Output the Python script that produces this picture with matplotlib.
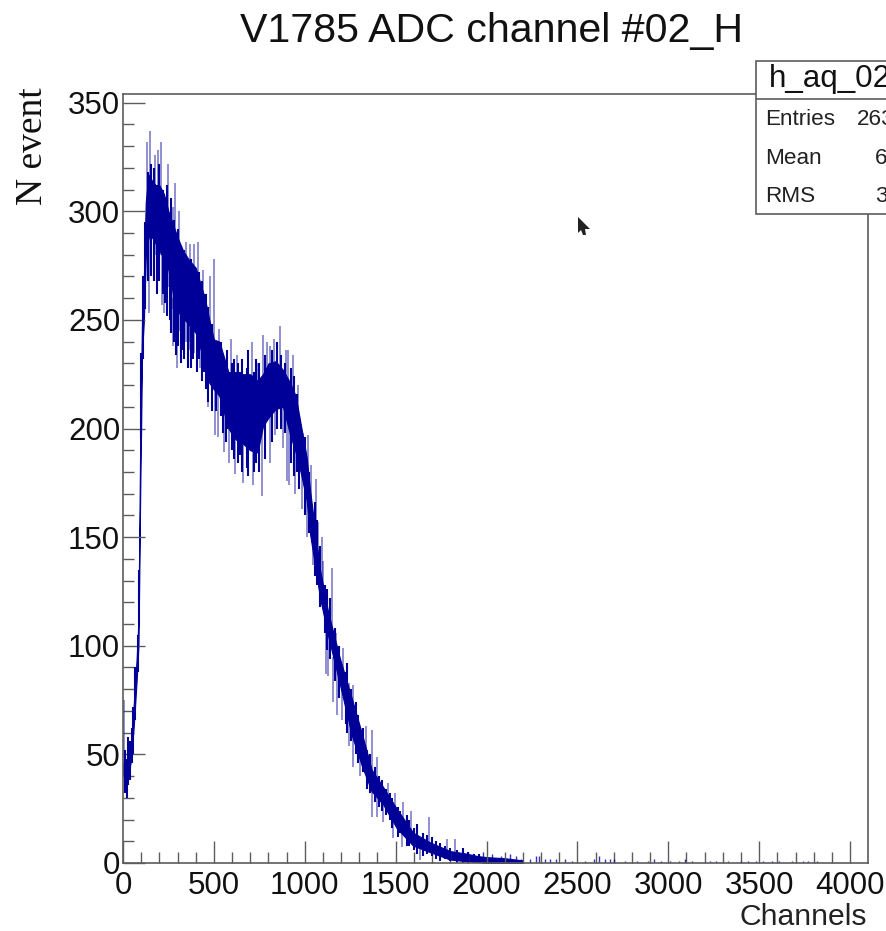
#!/usr/bin/env python3
"""V1785 ADC channel spectrum, drawn in the ROOT canvas style."""
import matplotlib

matplotlib.use("Agg")
import matplotlib.pyplot as plt
from matplotlib.patches import Polygon, Rectangle
from matplotlib.ticker import MultipleLocator

# dense body of the histogram
core_channels = [0, 5, 15, 30, 45, 60, 75, 85, 95, 105, 115, 125, 140, 160, 180, 200, 225, 250,
                 275, 300, 330, 360, 400, 450, 475, 500, 530, 580, 620, 660, 700, 740, 770, 800,
                 840, 880, 920, 950, 980, 1010, 1030, 1084, 1130, 1194, 1258, 1313, 1368, 1431,
                 1506, 1596, 1689, 1799, 1891, 1950, 2000, 2100, 2200]
core_low = [40, 40, 36, 40, 48, 64, 84, 100, 172, 235, 250, 278, 288, 288, 285, 282, 278, 273,
            262, 254, 251, 248, 244, 230, 221, 218, 215, 200, 195, 193, 190, 189, 201, 205,
            209, 210, 197, 189, 179, 167, 151, 122, 104, 82, 59, 45, 33, 27,
            16, 8, 5, 1.6, 0.8, 0.5, 0, 0, 0]
core_high = [46, 46, 42, 48, 54, 74, 94, 112, 198, 252, 270, 304, 317, 314, 312, 312, 308, 300,
             294, 288, 282, 278, 274, 260, 250, 241, 240, 226, 226, 225, 225, 222, 225, 230,
             231, 227, 221, 215, 201, 187, 171, 135, 115, 94, 76, 60, 43, 35,
             25, 14, 9.5, 5.5, 4.3, 3.2, 2.7, 2.2, 1.2]

# single bins that stick out above the body
up_channels = [7, 130, 150, 176, 191, 207, 246, 273, 286, 310, 347, 369, 393, 414, 438, 479, 501,
               528, 594, 625, 671, 708, 739, 769, 791, 809, 831, 864, 897, 910, 934, 961, 992,
               1020, 1034, 1062, 1075, 1093, 1102, 1148, 1170, 1212, 1243, 1267, 1337, 1372,
               1399, 1459, 1497, 1539, 1583, 1683, 1781, 1827]
up_tops = [75, 332, 337, 326, 328, 332, 322, 302, 313, 300, 286, 285, 285, 286, 273, 270, 278,
           246, 241, 234, 224, 240, 230, 243, 240, 238, 241, 247, 236, 236, 234, 220, 198,
           197, 183, 177, 157, 150, 139, 136, 106, 99, 83, 82, 63, 61,
           49, 37, 32, 28, 24, 21, 11, 11]
up_bases = [45, 280, 285, 280, 280, 280, 265, 255, 250, 245, 240, 240, 235, 235, 230, 225, 220,
            225, 210, 210, 205, 205, 205, 212, 215, 218, 220, 220, 215, 210, 205, 200, 190,
            175, 165, 150, 135, 125, 125, 108, 95, 80, 72, 65, 48, 38,
            33, 25, 20, 15, 10, 7, 3, 3]

# single bins that dip below the body
down_channels = [145, 213, 227, 277, 295, 369, 424, 469, 506, 524, 556, 585, 616, 662, 714, 763,
                 809, 836, 882, 900, 913, 946, 983, 1010, 1047, 1117, 1130, 1157, 1179, 1203,
                 1245, 1267, 1304, 1368, 1398, 1431, 1487, 1533, 1634]
down_bottoms = [253, 257, 253, 238, 228, 236, 228, 210, 197, 196, 189, 184, 179, 175, 174, 169,
                184, 197, 191, 176, 174, 170, 163, 150, 137, 87, 86, 74, 68, 66,
                54, 44, 40, 21, 21, 19, 11.5, 7.4, 1.4]
down_bases = [285, 285, 275, 260, 255, 250, 245, 235, 225, 225, 210, 210, 210, 205, 205, 210,
              215, 220, 220, 215, 210, 200, 190, 175, 160, 110, 110, 95, 90, 85,
              70, 60, 52, 38, 36, 30, 24, 18, 10]

# ordinary bins that roughen the edge of the body
edge_channels = [10, 20, 28, 38, 50, 55, 68, 80, 90, 100,
                 112, 120, 135, 155, 168, 185, 198, 218, 232, 240, 258, 266, 280, 292, 303, 318,
                 326, 338, 355, 376, 385, 405, 420, 432, 445, 458, 470, 490, 512, 540, 552, 565,
                 572, 600, 610, 634, 645, 652, 680, 690, 722, 730, 750, 780, 820, 850, 872, 890,
                 925, 940, 955, 970, 1000, 1025, 1055, 1068, 1085, 1110, 1125, 1140, 1165, 1188,
                 1225, 1235, 1255, 1280, 1295, 1320, 1345, 1360, 1385, 1410, 1425, 1445, 1470,
                 1480, 1515, 1525, 1560, 1575, 1600, 1620, 1650, 1670, 1700, 1720, 1745, 1770,
                 1800, 1840, 1870, 1900, 1930, 1960]
edge_low = [32, 30, 36, 38, 46, 50, 66, 88, 110, 195,
            232, 255, 268, 270, 268, 262, 268, 262, 258, 252, 250, 244, 240, 234, 238, 230,
            236, 232, 228, 228, 232, 226, 232, 222, 226, 218, 212, 208, 208, 206, 198, 194,
            200, 190, 186, 184, 188, 180, 182, 178, 180, 184, 180, 186, 194, 200, 200, 198,
            184, 178, 180, 172, 160, 152, 132, 128, 118, 106, 98, 94, 84, 76,
            64, 60, 56, 50, 46, 42, 34, 32, 28, 26, 24, 22, 20,
            16, 12, 14, 8, 8, 6, 4, 3, 4, 3, 2, 1, 2,
            1, 0, 0, 0, 0, 0]
edge_high = [52, 48, 58, 56, 62, 72, 90, 105, 135, 235,
             270, 295, 318, 322, 320, 312, 322, 310, 300, 312, 298, 306, 296, 290, 292, 284,
             278, 282, 276, 278, 272, 270, 272, 268, 262, 262, 256, 248, 238, 240, 234, 224,
             236, 230, 232, 230, 226, 232, 228, 236, 226, 232, 230, 234, 236, 240, 234, 230,
             228, 224, 216, 206, 196, 180, 166, 158, 146, 128, 126, 122, 108, 100,
             88, 92, 80, 74, 68, 62, 52, 50, 44, 40, 38, 34, 32,
             30, 26, 24, 22, 20, 16, 18, 14, 13, 12, 10, 9, 8,
             7, 6, 7, 5, 4, 4]

# scattered low bins in the tail
tail_channels = [1980, 2030, 2080, 2130, 2160, 2190, 2240, 2270, 2290, 2320, 2350, 2380, 2430, 2470,
                 2540, 2590, 2620, 2650, 2680, 2700, 2760, 2830, 2890, 2920, 2960, 3010, 3060,
                 3090, 3130, 3230, 3260, 3330, 3400, 3440, 3480, 3520, 3570, 3610, 3680, 3740,
                 3770, 3816]
tail_counts = [5, 4, 3, 4, 3, 2, 2, 3, 3, 2, 2, 2, 2, 1, 1, 2, 3, 2, 2, 2, 1, 1, 1, 2, 1, 1, 1,
               2, 1, 1, 1, 1, 1, 1, 1, 1, 1, 1, 1, 1, 1, 1]

x_ticks = [0, 500, 1000, 1500, 2000, 2500, 3000, 3500, 4000]
y_ticks = [0, 50, 100, 150, 200, 250, 300, 350]

stat_labels = ["Entries", "Mean", "RMS"]
stat_values = ["263", "6", "3"]

WIDTH, HEIGHT = 886, 931
BLUE = "#000099"
GREY = "#5c5c5c"
SANS = "Liberation Sans"
SERIF = "Liberation Serif"


def fx(px):
    return px / WIDTH


def fy(py):
    return 1 - py / HEIGHT


def main():
    fig = plt.figure(figsize=(WIDTH / 100, HEIGHT / 100), dpi=100)
    ax = fig.add_axes([fx(123), fy(863), fx(867.5 - 123), (863 - 94) / HEIGHT])

    ax.fill_between(core_channels, core_low, core_high, color=BLUE, lw=0.8)
    ax.vlines(edge_channels, edge_low, edge_high, color=BLUE, lw=1.5)
    ax.vlines(up_channels, up_bases, up_tops, color=BLUE, lw=1.1, alpha=0.55)
    ax.vlines(down_channels, down_bottoms, down_bases, color=BLUE, lw=1.1, alpha=0.55)
    ax.vlines(tail_channels, 0, tail_counts, color=BLUE, lw=1.0, alpha=0.8)

    ax.set_xlim(0, 4096)
    ax.set_ylim(0, 354)
    ax.set_xticks(x_ticks)
    ax.set_yticks(y_ticks)
    ax.xaxis.set_minor_locator(MultipleLocator(100))
    ax.yaxis.set_minor_locator(MultipleLocator(10))
    ax.tick_params(which="major", direction="in", length=16, width=1.0, color=GREY,
                   labelsize=22.5, labelcolor="#111111")
    ax.tick_params(which="minor", direction="in", length=8, width=1.0, color=GREY)
    ax.tick_params(axis="x", which="major", pad=6)
    ax.tick_params(axis="y", which="major", pad=2)
    for label in ax.get_xticklabels() + ax.get_yticklabels():
        label.set_fontfamily(SANS)
    for spine in ax.spines.values():
        spine.set_color(GREY)
        spine.set_linewidth(1.2)

    fig.text(fx(491), fy(42), "V1785 ADC channel #02_H", family=SANS, fontsize=29.6,
             ha="center", va="baseline", color="#111111")
    fig.text(fx(867), fy(925), "Channels", family=SANS, fontsize=21.7, ha="right",
             va="baseline", color="#222222")
    fig.text(fx(50), fy(146), "N event", family=SERIF, fontsize=27, rotation=90,
             ha="right", va="center", color="#111111")

    # stats box runs off the right edge of the canvas
    fig.add_artist(Rectangle((fx(756), fy(214)), fx(140), (214 - 61) / HEIGHT, facecolor="white",
                             edgecolor=GREY, lw=1.2, zorder=5))
    fig.add_artist(Rectangle((fx(756), fy(99)), fx(140), 0, edgecolor=GREY, lw=1.2, zorder=6))
    fig.text(fx(769), fy(87), "h_aq_02", family=SANS, fontsize=22.6, va="baseline", zorder=7,
             color="#111111")
    for row, py in enumerate([125, 164, 202]):
        fig.text(fx(765), fy(py), stat_labels[row], family=SANS, fontsize=16.2, va="baseline",
                 zorder=7, color="#222222")
    for row, (px, py) in enumerate([(857, 125), (875, 164), (875, 202)]):
        fig.text(fx(px), fy(py), stat_values[row], family=SANS, fontsize=16.2, va="baseline",
                 zorder=7, color="#222222")

    # mouse pointer caught in the screenshot
    pointer = [(578, 217), (590, 229), (585, 229), (586, 235), (583, 235), (581, 230), (578, 233)]
    fig.add_artist(Polygon([(fx(x), fy(y)) for x, y in pointer], closed=True, facecolor="#222222",
                           edgecolor="none", zorder=8))

    fig.savefig("out.png", dpi=100)
    plt.close(fig)


if __name__ == "__main__":
    main()
